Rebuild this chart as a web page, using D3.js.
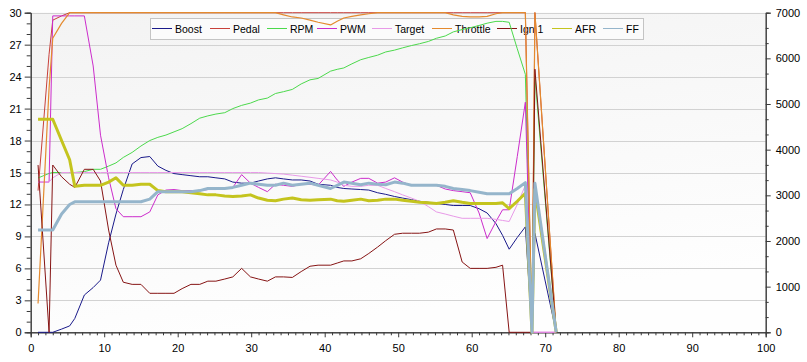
<!DOCTYPE html>
<html>
<head>
<meta charset="utf-8">
<script src="https://cdn.jsdelivr.net/npm/d3@7/dist/d3.min.js"></script>
<style>
body{margin:0;background:#fff;}
svg text{font-family:"Liberation Sans",Arial,sans-serif;font-size:11px;fill:#000;}
#legend text{font-size:10.5px;}
</style>
</head>
<body>
<script>
//Data
var xs = [1.0,2.5,3.0,4.2,5.3,6.0,7.3,8.5,9.5,10.6,
          11.6,12.6,13.8,15.0,16.2,17.3,18.4,19.5,20.6,21.8,
          23.0,24.1,25.2,26.4,27.5,28.7,29.9,31.0,32.2,33.3,
          34.4,35.6,36.8,38.0,39.1,40.8,41.7,42.6,43.7,44.9,
          46.0,47.2,48.3,49.5,50.6,51.8,52.9,54.1,55.2,56.4,
          57.5,58.7,59.8,61.0,62.1,63.3,64.2,65.1,66.2,67.3,
          68.2,68.6,71.5];

var boost = [0,0,0,0.3,0.6,1.3,3.5,4.2,4.9,8.4,
             11.1,13.4,15.8,16.4,16.5,15.6,15.2,14.9,14.8,14.7,
             14.6,14.6,14.5,14.4,14.1,14.0,14.0,14.2,14.4,14.5,
             14.4,14.3,14.3,14.2,13.9,13.8,13.6,13.5,13.45,13.4,
             13.35,13.1,12.95,12.75,12.6,12.45,12.3,12.2,12.1,12.0,
             11.9,11.9,11.9,11.6,11.2,10.2,9.1,7.8,8.9,9.9,
             0,9.3,0];

var pedal = [13.3,26.1,29.3,29.7,30,30,30,30,30,30,
             30,30,30,30,30,30,30,30,30,30,
             30,30,30,30,30,30,30,30,30,30,
             30,30,30,30,30,30,30,30,30,30,
             30,30,30,30,30,30,30,30,30,30,
             30,30,30,30,30,30,30,30,30,30,
             0,30,0];

var rpm = [3380,3480,3500,3500,3500,3500,3520,3570,3570,3640,
           3710,3830,3940,4080,4200,4270,4320,4390,4460,4570,
           4690,4740,4780,4810,4900,4970,5020,5090,5130,5230,
           5270,5320,5440,5530,5560,5720,5760,5790,5880,5970,
           6020,6070,6140,6180,6230,6280,6320,6370,6440,6490,
           6580,6630,6670,6720,6770,6810,6810,6790,6210,5650,
           0,5600,0];

var pwm = [14.1,14.1,29.7,29.7,29.7,29.7,29.7,25.0,18.5,14.5,
           11.6,10.85,10.85,10.85,11.3,12.9,13.35,13.4,13.3,13.3,
           13.3,13.4,13.4,13.5,13.6,14.8,14.0,13.6,13.2,13.9,
           13.8,13.7,13.9,13.9,13.8,15.1,14.3,13.7,14.1,14.45,
           14.45,14.0,14.1,14.5,14.1,13.8,13.8,13.8,13.8,13.45,
           13.3,13.2,13.1,11.2,8.8,10.4,11.5,11.5,16.5,21.6,
           0,0,0];

var target = [14.1,14.1,14.5,15,15,15,15,15,15,15,
              15,15,15,15,15,15,15,15,15,15,
              15,15,15,15,15,15,15,15,14.95,14.9,
              14.85,14.75,14.65,14.55,14.45,14.3,14.1,13.8,13.7,13.7,
              13.8,13.8,13.5,13.2,12.9,12.6,12.3,11.8,11.3,11.1,
              10.9,10.7,10.7,10.7,10.7,10.6,10.5,10.4,12.0,13.8,
              0,0,0];

var throttle = [2.7,22.9,27.6,29.0,30,30,30,30,30,30,
                30,30,30,30,30,30,30,30,30,30,
                30,30,30,30,30,30,30,30,30,30,
                29.8,29.6,29.5,29.3,29.1,28.85,29.2,29.5,29.65,29.8,
                29.9,30,30,30,30,30,30,30,30,30,
                29.8,29.65,29.6,29.6,29.65,29.9,30,30,30,30,
                0,30,0];

var ign1 = [15.7,0,15.7,14.6,13.9,13.6,15.3,15.3,14.2,9.6,
            6.3,4.7,4.5,4.5,3.66,3.66,3.66,3.66,4.1,4.5,
            4.5,4.8,4.8,5.0,5.2,6.0,5.2,5.0,4.8,5.2,
            5.2,5.15,5.7,6.2,6.3,6.3,6.5,6.7,6.7,6.9,
            7.4,8.0,8.6,9.2,9.3,9.3,9.3,9.4,9.7,9.7,
            9.6,6.6,6.0,6.0,6.0,6.1,6.3,0,0,0,
            0,24.7,0];

var afr = [20.0,20.0,20.0,18.0,16.2,13.7,13.8,13.8,13.8,14.1,
           14.5,13.8,13.8,13.9,13.9,13.3,13.2,13.2,13.2,13.1,
           13.0,12.9,12.9,12.8,12.75,12.8,12.9,12.6,12.4,12.35,
           12.5,12.6,12.45,12.4,12.45,12.5,12.35,12.3,12.4,12.5,
           12.35,12.4,12.5,12.5,12.4,12.3,12.2,12.15,12.1,12.2,
           12.35,12.2,12.1,12.1,12.1,12.1,12.15,11.6,12.3,13.05,
           0,13.4,0];

var ff = [9.6,9.6,9.6,11.1,12.0,12.25,12.25,12.25,12.25,12.25,
          12.25,12.25,12.25,12.25,12.5,13.2,13.2,13.2,13.2,13.2,
          13.3,13.5,13.5,13.5,13.6,13.8,14.0,13.9,13.8,13.8,
          14.0,13.8,13.9,14.0,13.8,13.5,13.8,14.1,14.0,13.85,
          14.0,13.9,13.85,14.1,14.0,13.8,13.8,13.8,13.8,13.7,
          13.5,13.4,13.3,13.15,13.0,13.0,13.0,13.0,13.5,14.05,
          0,14.0,0];

var names = ["Boost","Pedal","RPM","PWM","Target","Throttle","Ign 1","AFR","FF"];
var leftTicks = [0,3,6,9,12,15,18,21,24,27,30];
var rightTicks = [0,1000,2000,3000,4000,5000,6000,7000];
var xTicks = [0,10,20,30,40,50,60,70,80,90,100];

//Styles, one per series
var values = [boost,pedal,rpm,pwm,target,throttle,ign1,afr,ff];
var colors = ["#1a1a8a","#c8403a","#4cd94c","#cc2ccc","#e89ae8","#e48a2e","#861414","#c4c41e","#95b5cb"];
var widths = [1,1,1,1,1,1.2,1,3,3];
var onRight = [false,false,true,false,false,false,false,false,false];
//legend swatch starts (px), as laid out in the original
var legendX = [152,210,267,317,372,432,497,552,603];

//Size Globals:
var svgWidth = 807, svgHeight = 362;
var plotL = 30.7, plotR = 765.7, plotT = 12.7, plotB = 332.3;

var svg = d3.select('body').append('svg')
    .attr('id','mainsvg')
    .attr('width',svgWidth)
    .attr('height',svgHeight);

var x = d3.scaleLinear().domain([0,100]).range([plotL,plotR]);
var yL = d3.scaleLinear().domain([0,30]).range([plotB,plotT]);
var yR = d3.scaleLinear().domain([0,7000]).range([plotB,plotT]);

//plot background
var grad = svg.append('defs').append('linearGradient')
    .attr('id','bg').attr('x1',0).attr('y1',0).attr('x2',0.3).attr('y2',1);
grad.append('stop').attr('offset','0%').attr('stop-color','#f3f3f3');
grad.append('stop').attr('offset','100%').attr('stop-color','#fefefe');
svg.append('rect')
    .attr('x',plotL).attr('y',plotT)
    .attr('width',plotR-plotL).attr('height',plotB-plotT)
    .attr('fill','url(#bg)');

//grid lines on the left scale
svg.append('g').selectAll('line')
    .data(leftTicks.filter(function(d){ return d > 0; }))
    .enter().append('line')
    .attr('x1',plotL).attr('x2',plotR)
    .attr('y1',function(d){ return Math.round(yL(d))+0.5; })
    .attr('y2',function(d){ return Math.round(yL(d))+0.5; })
    .attr('stroke','#d2d2d2');

//Legend (sits under the lines)
var legend = svg.append('g').attr('id','legend');
legend.append('rect')
    .attr('x',150.5).attr('y',18.5)
    .attr('width',493).attr('height',21)
    .attr('fill','#fbfbfb').attr('stroke','#c4c4c4');
names.forEach(function(n,i){
    var lx = legendX[i];
    legend.append('line')
        .attr('x1',lx).attr('x2',lx+20)
        .attr('y1',28.5).attr('y2',28.5)
        .attr('stroke',colors[i]).attr('stroke-width',1);
    legend.append('text')
        .attr('x',lx+23).attr('y',32.5)
        .text(n);
});

//Axes
function styleAxis(g){
    g.select('.domain').attr('stroke','#3a3a3a');
    g.selectAll('.tick line').attr('stroke','#3a3a3a');
    g.selectAll('text').attr('font-size',null).attr('font-family',null);
}
function minor(list,step,max){
    var out = [];
    for(var v = 0; v <= max + 1e-6; v += step){
        if(list.indexOf(Math.round(v*1000)/1000) < 0) out.push(v);
    }
    return out;
}

svg.append('g').attr('transform','translate('+plotL+',0)')
    .call(d3.axisLeft(yL).tickValues(minor(leftTicks,1,30)).tickSize(4).tickFormat(''))
    .call(styleAxis);
svg.append('g').attr('transform','translate('+plotL+',0)')
    .call(d3.axisLeft(yL).tickValues(leftTicks).tickSize(6).tickPadding(3))
    .call(styleAxis);

svg.append('g').attr('transform','translate('+plotR+',0)')
    .call(d3.axisRight(yR).tickValues(minor(rightTicks,1000/3,7000)).tickSize(3).tickFormat(''))
    .call(styleAxis);
svg.append('g').attr('transform','translate('+plotR+',0)')
    .call(d3.axisRight(yR).tickValues(rightTicks).tickSize(5).tickPadding(5).tickFormat(d3.format('d')))
    .call(styleAxis);

svg.append('g').attr('transform','translate(0,'+plotB+')')
    .call(d3.axisBottom(x).tickValues(minor(xTicks,1,100)).tickSize(3).tickFormat(''))
    .call(styleAxis);
svg.append('g').attr('transform','translate(0,'+plotB+')')
    .call(d3.axisBottom(x).tickValues(xTicks).tickSize(5).tickPadding(7))
    .call(styleAxis);

//Series lines
var plot = svg.append('g').attr('id','series');
values.forEach(function(vals,i){
    var ys = onRight[i] ? yR : yL;
    var line = d3.line()
        .x(function(d,j){ return x(xs[j]); })
        .y(function(d){ return ys(d); });
    plot.append('path')
        .attr('d',line(vals))
        .attr('fill','none')
        .attr('stroke',colors[i])
        .attr('stroke-width',widths[i])
        .attr('stroke-linejoin','round');
});
</script>
</body>
</html>
